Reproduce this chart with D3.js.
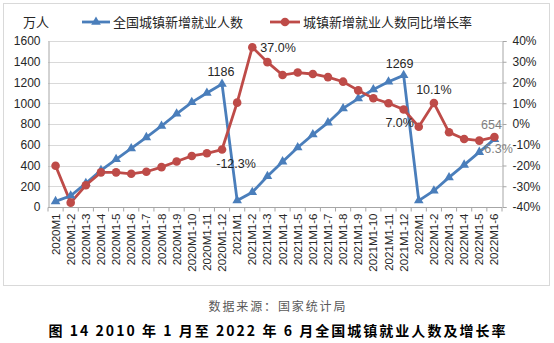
<!DOCTYPE html>
<html><head><meta charset="utf-8">
<script src="https://cdn.jsdelivr.net/npm/d3@7/dist/d3.min.js"></script>
<style>body{margin:0;background:#fff}svg{display:block}</style>
</head><body>
<svg id="c" width="554" height="343"></svg>
<script>
const categories = ["2020M1","2020M1-2","2020M1-3","2020M1-4","2020M1-5","2020M1-6","2020M1-7","2020M1-8","2020M1-9","2020M1-10","2020M1-11","2020M1-12",
"2021M1","2021M1-2","2021M1-3","2021M1-4","2021M1-5","2021M1-6","2021M1-7","2021M1-8","2021M1-9","2021M1-10","2021M1-11","2021M1-12",
"2022M1","2022M1-2","2022M1-3","2022M1-4","2022M1-5","2022M1-6"];
const employed = [54,108,229,354,460,564,671,781,898,1009,1099,1186,
62,142,297,437,574,698,813,950,1045,1133,1207,1269,
62,157,285,406,529,654];
const growth = [-20.1,-37.9,-29.5,-23.3,-23.3,-24.0,-23.0,-20.8,-18.1,-15.4,-14.1,-12.3,
10.3,37.0,29.8,23.6,24.8,24.1,22.6,20.4,16.2,12.4,10.0,7.0,
-1.3,10.1,-4.0,-7.2,-8.0,-6.3];
const leftTicks = [0,200,400,600,800,1000,1200,1400,1600];
const rightTicks = [-40,-30,-20,-10,0,10,20,30,40];
const unitLabel = "万人";
const seriesNames = ["全国城镇新增就业人数","城镇新增就业人数同比增长率"];
const source = "数据来源：国家统计局";
const title = "图 14 2010 年 1 月至 2022 年 6 月全国城镇就业人数及增长率";

const svg = d3.select("#c");
const L = 48, R = 502, T = 41, B = 207;
const blue = "#4A7EBB", red = "#BE4B48";
const font = "Arial, 'Liberation Sans', 'Noto Sans CJK SC', sans-serif";

svg.append("rect").attr("x",3.5).attr("y",3.5).attr("width",546).attr("height",282)
  .attr("fill","#fff").attr("stroke","#d9d9d9");

const x = d3.scaleBand().domain(categories).range([L,R]);
const cx = d => x(d) + x.bandwidth()/2;
const yL = d3.scaleLinear().domain([0,1600]).range([B,T]);
const yR = d3.scaleLinear().domain([-40,40]).range([B,T]);

// gridlines
svg.append("g").selectAll("line").data(leftTicks.slice(1)).join("line")
  .attr("x1",L).attr("x2",R).attr("y1",d=>Math.round(yL(d))+0.5).attr("y2",d=>Math.round(yL(d))+0.5)
  .attr("stroke","#d9d9d9");

// left axis
const gl = svg.append("g").attr("transform",`translate(${L+0.5},0)`)
  .call(d3.axisLeft(yL).tickValues(leftTicks).tickSize(0).tickPadding(8).tickFormat(d3.format("d")));
gl.select(".domain").attr("stroke","#a6a6a6");
gl.selectAll("text").attr("font-family",font).attr("font-size",12).attr("fill","#262626");

// right axis
const gr = svg.append("g").attr("transform",`translate(${R+0.5},0)`)
  .call(d3.axisRight(yR).tickValues(rightTicks).tickSize(4).tickPadding(6).tickFormat(d=>d+"%"));
gr.select(".domain").attr("stroke","#a6a6a6");
gr.selectAll(".tick line").attr("stroke","#a6a6a6");
gr.selectAll("text").attr("font-family",font).attr("font-size",12).attr("fill","#262626");

// bottom axis
const gb = svg.append("g").attr("transform",`translate(0,${B+0.5})`);
gb.append("line").attr("x1",L).attr("x2",R).attr("stroke","#a6a6a6");
gb.selectAll("line.t").data(categories.concat(["end"])).join("line").attr("class","t")
  .attr("x1",(d,i)=>L+i*x.step()).attr("x2",(d,i)=>L+i*x.step()).attr("y1",0).attr("y2",4)
  .attr("stroke","#a6a6a6");
gb.selectAll("text").data(categories).join("text")
  .attr("transform",d=>`translate(${cx(d)+4},6) rotate(-90)`)
  .attr("text-anchor","end").attr("font-family",font).attr("font-size",11.5).attr("fill","#262626")
  .text(d=>d);

// lines
svg.append("path").datum(employed).attr("fill","none").attr("stroke",blue).attr("stroke-width",2.8)
  .attr("d",d3.line().x((d,i)=>cx(categories[i])).y(d=>yL(d)));
svg.append("path").datum(growth).attr("fill","none").attr("stroke",red).attr("stroke-width",2.8)
  .attr("d",d3.line().x((d,i)=>cx(categories[i])).y(d=>yR(d)));

const tri = d3.symbol().type(d3.symbolTriangle).size(40);
svg.append("g").selectAll("path").data(employed).join("path")
  .attr("d",tri).attr("fill",blue)
  .attr("transform",(d,i)=>`translate(${cx(categories[i])},${yL(d)})`);
svg.append("g").selectAll("circle").data(growth).join("circle")
  .attr("cx",(d,i)=>cx(categories[i])).attr("cy",d=>yR(d)).attr("r",4.3).attr("fill",red);

// annotations
const ann = [
  {t:String(employed[11]), x:cx(categories[11])-1, y:yL(employed[11])-8, a:"middle", c:"#262626"},
  {t:growth[11].toFixed(1)+"%", x:cx(categories[11])+14, y:yR(growth[11])+18, a:"middle", c:"#262626"},
  {t:growth[13].toFixed(1)+"%", x:cx(categories[13])+8, y:yR(growth[13])+5, a:"start", c:"#262626"},
  {t:String(employed[23]), x:cx(categories[23])-4, y:yL(employed[23])-7, a:"middle", c:"#262626"},
  {t:growth[23].toFixed(1)+"%", x:cx(categories[23])-4, y:yR(growth[23])+18, a:"middle", c:"#262626"},
  {t:growth[25].toFixed(1)+"%", x:cx(categories[25]), y:yR(growth[25])-9, a:"middle", c:"#262626"},
  {t:String(employed[29]), x:cx(categories[29])-3, y:yR(growth[29])-8, a:"middle", c:"#7f7f7f"},
  {t:growth[29].toFixed(1)+"%", x:cx(categories[29])+2, y:yL(employed[29])+14, a:"middle", c:"#7f7f7f"}
];
svg.append("g").selectAll("text").data(ann).join("text")
  .attr("x",d=>d.x).attr("y",d=>d.y).attr("text-anchor",d=>d.a).attr("fill",d=>d.c)
  .attr("font-family",font).attr("font-size",12.5).text(d=>d.t);

// legend
svg.append("text").attr("x",23).attr("y",27).attr("font-family",font).attr("font-size",13).attr("fill","#262626").text(unitLabel);
const lg = svg.append("g");
lg.append("line").attr("x1",82).attr("x2",110).attr("y1",22).attr("y2",22).attr("stroke",blue).attr("stroke-width",2.8);
lg.append("path").attr("d",tri).attr("fill",blue).attr("transform","translate(96,22)");
lg.append("text").attr("x",113).attr("y",27).attr("font-family",font).attr("font-size",13).attr("fill","#262626").text(seriesNames[0]);
lg.append("line").attr("x1",270).attr("x2",300).attr("y1",22).attr("y2",22).attr("stroke",red).attr("stroke-width",2.8);
lg.append("circle").attr("cx",285).attr("cy",22).attr("r",4.3).attr("fill",red);
lg.append("text").attr("x",303).attr("y",27).attr("font-family",font).attr("font-size",13).attr("fill","#262626").text(seriesNames[1]);

// source and title
svg.append("text").attr("x",277).attr("y",311).attr("text-anchor","middle").attr("font-family","'Noto Sans CJK SC', sans-serif")
  .attr("font-size",12).attr("fill","#595959").attr("textLength",137).text(source);
svg.append("text").attr("x",277).attr("y",336).attr("text-anchor","middle").attr("font-family","'Noto Sans CJK SC', sans-serif")
  .attr("font-weight","bold").attr("font-size",14).attr("fill","#000").attr("textLength",457).text(title);
</script>
</body></html>
